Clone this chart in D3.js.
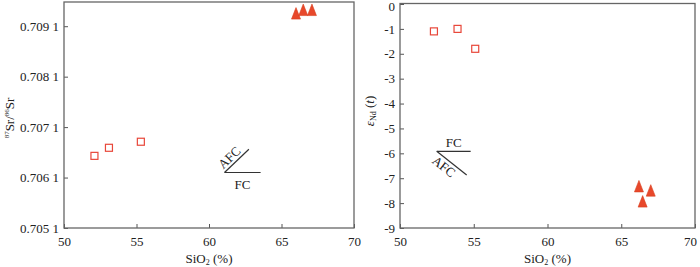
<!DOCTYPE html>
<html>
<head>
<meta charset="utf-8">
<title>SiO2 vs Sr-Nd</title>
<script src="https://cdnjs.cloudflare.com/ajax/libs/d3/7.8.5/d3.min.js"></script>
<style>
  body { margin: 0; background: #fff; }
  text { font-family: "Liberation Serif", "Times New Roman", serif; fill: #222; }
</style>
</head>
<body>
<script>
// datos
var srSquaresX = [52.1, 53.1, 55.3],
    srSquaresY = [0.70653, 0.70669, 0.70681];
var srTriX = [66.0, 66.5, 67.1],
    srTriY = [0.70935, 0.70942, 0.70942];
var ndSquaresX = [52.3, 53.9, 55.1],
    ndSquaresY = [-1.1, -1.0, -1.8];
var ndTriX = [66.2, 67.0, 66.45],
    ndTriY = [-7.33, -7.5, -7.94];
var xTicks = [50, 55, 60, 65, 70];
var srTicks = [0.7051, 0.7061, 0.7071, 0.7081, 0.7091];
var ndTicks = [0, -1, -2, -3, -4, -5, -6, -7, -8, -9];
// lineas AFC / FC  [x, y]
var srFC = [[61.07, 0.70620], [63.56, 0.70620]],
    srAFC = [[61.07, 0.70620], [62.75, 0.70666]];
var ndFC = [[52.49, -5.92], [54.79, -5.92]],
    ndAFC = [[52.49, -5.92], [54.52, -6.87]];

var width = 700, height = 267;
var rojo = "#e8473a", rojoTri = "#e8482b";

var svg = d3.select("body").append("svg")
    .attr("width", width)
    .attr("height", height);

function zip(a, b) { return a.map(function(v, i) { return [v, b[i]]; }); }

var triPath = "M0,-6L4.5,5.5L-4.5,5.5Z";

function panel(p) {
  var g = svg.append("g");
  var x = d3.scaleLinear().domain([50, 70]).range([p.x0, p.x1]);
  var y = d3.scaleLinear().domain(p.domain).range([p.yb, p.yt]);

  g.append("g")
    .attr("transform", "translate(0," + p.yb + ")")
    .call(d3.axisBottom(x).tickValues(xTicks).tickSize(-4).tickPadding(9))
    .call(function(a) {
      a.select(".domain").remove();
      a.selectAll("line").attr("stroke", "#555");
      a.selectAll("text").attr("font-size", 13).attr("fill", "#222");
      if (p.lastDx) a.selectAll("text").filter(function(d) { return d === 70; }).attr("dx", p.lastDx);
    });

  g.append("g")
    .attr("transform", "translate(" + p.x0 + ",0)")
    .call(d3.axisLeft(y).tickValues(p.ticks).tickFormat(p.fmt).tickSize(-4).tickPadding(5))
    .call(function(a) {
      a.select(".domain").remove();
      a.selectAll("line").attr("stroke", "#555");
      a.selectAll("text").attr("font-size", 13).attr("fill", "#222");
      if (p.zeroDy) a.selectAll("text").filter(function(d) { return d === 0; }).attr("y", p.zeroDy);
    });

  g.append("rect")
    .attr("x", p.x0).attr("y", p.top)
    .attr("width", p.x1 - p.x0).attr("height", p.yb - p.top)
    .attr("fill", "none").attr("stroke", "#666").attr("stroke-width", 1.3);

  // cuadrados
  g.selectAll("rect.sq").data(p.squares).enter().append("rect")
    .attr("class", "sq")
    .attr("x", function(d) { return x(d[0]) - 3.5; })
    .attr("y", function(d) { return y(d[1]) - 3.5; })
    .attr("width", 7).attr("height", 7)
    .attr("fill", "#fff").attr("stroke", rojo).attr("stroke-width", 1.2);

  // triangulos
  g.selectAll("path.tri").data(p.tris).enter().append("path")
    .attr("class", "tri")
    .attr("d", triPath)
    .attr("transform", function(d) { return "translate(" + x(d[0]) + "," + y(d[1]) + ")"; })
    .attr("fill", rojoTri).attr("stroke", "#d8401f").attr("stroke-width", 0.6);

  var line = d3.line().x(function(d) { return x(d[0]); }).y(function(d) { return y(d[1]); });
  g.append("path").attr("d", line(p.fc)).attr("stroke", "#333").attr("stroke-width", 1.2).attr("fill", "none");
  g.append("path").attr("d", line(p.afc)).attr("stroke", "#333").attr("stroke-width", 1.2).attr("fill", "none");

  // rotulos FC / AFC
  var fcMid = (x(p.fc[0][0]) + x(p.fc[1][0])) / 2;
  g.append("text").text("FC")
    .attr("x", fcMid).attr("y", y(p.fc[0][1]) + p.fcDy)
    .attr("text-anchor", "middle").attr("font-size", 13);
  var ax0 = x(p.afc[0][0]), ay0 = y(p.afc[0][1]),
      ax1 = x(p.afc[1][0]), ay1 = y(p.afc[1][1]);
  var ang = Math.atan2(ay1 - ay0, ax1 - ax0) * 180 / Math.PI;
  g.append("text").text("AFC")
    .attr("transform", "translate(" + ((ax0 + ax1) / 2) + "," + ((ay0 + ay1) / 2) + ") rotate(" + ang + ")")
    .attr("x", p.afcDx).attr("y", p.afcDy)
    .attr("text-anchor", "middle").attr("font-size", 13);

  // titulo eje x
  g.append("text")
    .attr("x", (p.x0 + p.x1) / 2).attr("y", 263)
    .attr("text-anchor", "middle").attr("font-size", 13)
    .call(function(t) {
      t.append("tspan").text("SiO");
      t.append("tspan").text("2").attr("font-size", 8).attr("dy", 2);
      t.append("tspan").text(" (%)").attr("dy", -2);
    });

  return { x: x, y: y, g: g };
}

var left = panel({
  x0: 64, x1: 354, top: 2, yb: 228, yt: 2,
  domain: [0.7051, 0.70958],
  ticks: srTicks,
  fmt: function(d) { var s = d3.format(".4f")(d); return s.slice(0, 5) + " " + s.slice(5); },
  squares: zip(srSquaresX, srSquaresY),
  tris: zip(srTriX, srTriY),
  fc: srFC, afc: srAFC,
  fcDy: 16, afcDx: -3, afcDy: -3
});

var right = panel({
  x0: 400, x1: 695, top: 3.5, yb: 228, yt: 4,
  domain: [-9, 0],
  ticks: ndTicks,
  fmt: function(d) { return d === 0 ? "0" : "-" + Math.abs(d); },
  squares: zip(ndSquaresX, ndSquaresY),
  tris: zip(ndTriX, ndTriY),
  fc: ndFC, afc: ndAFC,
  fcDy: -4, afcDx: -4, afcDy: 12,
  lastDx: -5, zeroDy: 2
});

// titulos eje y
svg.append("text")
  .attr("transform", "translate(14,118) rotate(-90)")
  .attr("text-anchor", "middle").attr("font-size", 13)
  .call(function(t) {
    t.append("tspan").text("87").attr("font-size", 7).attr("dy", -5);
    t.append("tspan").text("Sr/").attr("dy", 5);
    t.append("tspan").text("86").attr("font-size", 7).attr("dy", -5);
    t.append("tspan").text("Sr").attr("dy", 5);
  });

svg.append("text")
  .attr("transform", "translate(374,111) rotate(-90)")
  .attr("text-anchor", "middle").attr("font-size", 13)
  .call(function(t) {
    t.append("tspan").text("ε").attr("font-style", "italic");
    t.append("tspan").text("Nd").attr("font-size", 8).attr("dy", 2);
    t.append("tspan").text(" (").attr("dy", -2);
    t.append("tspan").text("t").attr("font-style", "italic");
    t.append("tspan").text(")");
  });
</script>
</body>
</html>
